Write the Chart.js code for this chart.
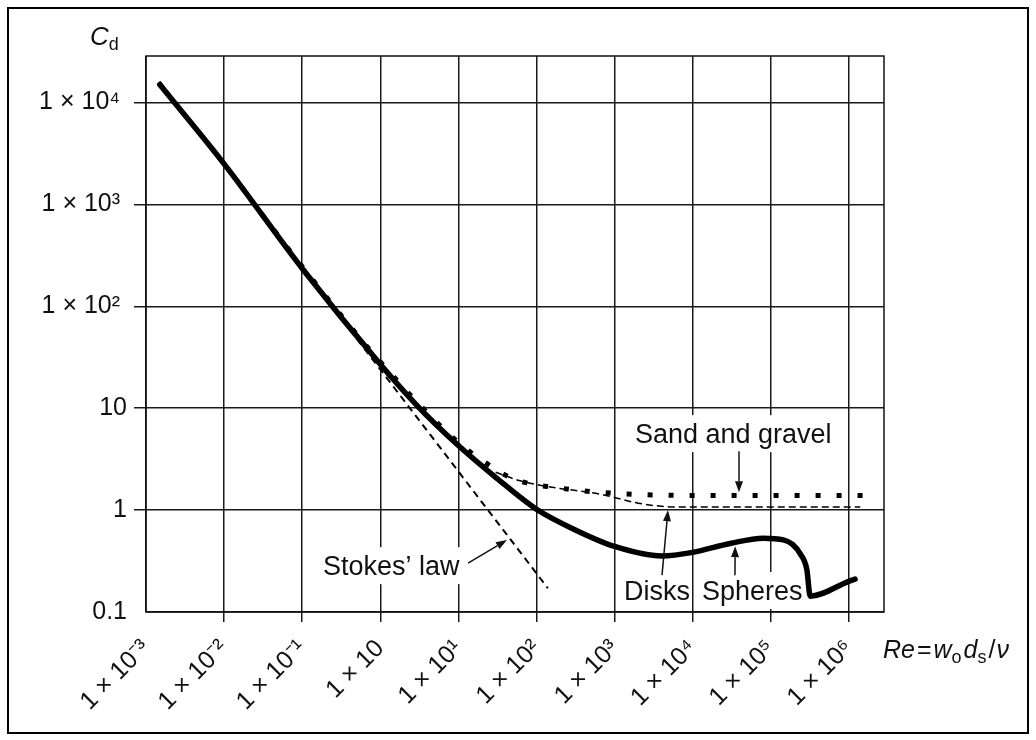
<!DOCTYPE html>
<html>
<head>
<meta charset="utf-8">
<script src="https://cdn.jsdelivr.net/npm/chart.js@4.4.1/dist/chart.umd.min.js"></script>
<style>
  html, body { margin: 0; padding: 0; background: #fff; }
  canvas { display: block; }
</style>
</head>
<body>
<canvas id="cd" width="1036" height="740"></canvas>
<script>
// Drag coefficient Cd vs Reynolds number
const sphereRe = [0.0015, 0.01, 0.1, 1, 3, 10, 30, 100, 300, 1000, 4000, 10000, 30000, 80000, 145000, 190000, 240000, 290000, 320000, 1000000, 1200000];
const sphereCd = [15000, 2500, 235, 27, 10.5, 4.3, 2.1, 1.02, 0.65, 0.44, 0.355, 0.385, 0.47, 0.53, 0.51, 0.46, 0.37, 0.26, 0.143, 0.2, 0.21];

const sandRe = [0.03, 0.1, 1, 10, 28, 48, 87, 160, 330, 610, 1170, 3000, 10000, 100000, 1000000, 1500000];
const sandCd = [810, 245, 28.5, 4.6, 2.6, 2.06, 1.8, 1.68, 1.57, 1.5, 1.45, 1.41, 1.39, 1.39, 1.39, 1.39];

const diskRe = [30, 60, 100, 200, 400, 700, 1000, 2000, 4000, 10000, 100000, 1400000];
const diskCd = [2.35, 1.95, 1.78, 1.63, 1.52, 1.42, 1.33, 1.17, 1.09, 1.07, 1.07, 1.07];

const stokesRe = [0.0015, 140];
const stokesCd = [16000, 0.171];

const xTickValues = [1e-3, 1e-2, 1e-1, 1, 10, 100, 1e3, 1e4, 1e5, 1e6];
const xTickLabels = ["1 × 10⁻³", "1 × 10⁻²", "1 × 10⁻¹", "1 × 10", "1 × 10¹", "1 × 10²", "1 × 10³", "1 × 10⁴", "1 × 10⁵", "1 × 10⁶"];
const yTickValues = [0.1, 1, 10, 100, 1000, 10000];
const yTickLabels = ["0.1", "1", "10", "1 × 10² ", "1 × 10³ ", "1 × 10⁴ "];

const pts = (xs, ys) => xs.map((x, i) => ({ x, y: ys[i] }));

const FONT = '"Liberation Sans", Arial, Helvetica, sans-serif';
const INK = "#111";

// labels on the plot, anchored at (Re, Cd) = left end of the baseline
const noteTexts = [
  { text: "Sand and gravel", re: 1820, cd: 4.54 },
  { text: "Stokes’ law", re: 0.185, cd: 0.23 },
  { text: "Disks", re: 1320, cd: 0.131 },
  { text: "Spheres", re: 13150, cd: 0.131 }
];
// arrows from label to curve, head at "to"
const noteArrows = [
  { from: [13.3, 0.302], to: [41.9, 0.508] },
  { from: [39200, 3.79], to: [39200, 1.5] },
  { from: [4050, 0.23], to: [4830, 1.0] },
  { from: [34800, 0.23], to: [35000, 0.443] }
];

function drawRuns(ctx, x, y, runs) {
  runs.forEach(r => {
    ctx.font = r.font;
    ctx.fillText(r.t, x, y + (r.dy || 0));
    x += ctx.measureText(r.t).width + (r.gap || 0);
  });
}

const decorations = {
  id: "decorations",
  beforeDatasetsDraw(chart) {
    const { ctx, scales: { x, y } } = chart;
    ctx.save();
    ctx.font = `27px ${FONT}`;
    ctx.fillStyle = "#fff";
    noteTexts.forEach(n => {
      const px = x.getPixelForValue(n.re), py = y.getPixelForValue(n.cd);
      const w = ctx.measureText(n.text).width;
      ctx.fillRect(px - 2, py - 28, w + 4, 37);
    });
    ctx.restore();
  },
  afterDatasetsDraw(chart) {
    const { ctx, chartArea: a, scales: { x, y } } = chart;
    ctx.save();

    // plot frame
    ctx.strokeStyle = INK;
    ctx.lineWidth = 1.5;
    ctx.strokeRect(a.left, a.top, a.right - a.left, a.bottom - a.top);

    // annotation labels
    ctx.fillStyle = INK;
    ctx.font = `27px ${FONT}`;
    ctx.textBaseline = "alphabetic";
    ctx.textAlign = "left";
    noteTexts.forEach(n => {
      ctx.fillText(n.text, x.getPixelForValue(n.re), y.getPixelForValue(n.cd));
    });

    // arrows
    ctx.lineWidth = 1.5;
    noteArrows.forEach(ar => {
      const x0 = x.getPixelForValue(ar.from[0]), y0 = y.getPixelForValue(ar.from[1]);
      const x1 = x.getPixelForValue(ar.to[0]), y1 = y.getPixelForValue(ar.to[1]);
      const ang = Math.atan2(y1 - y0, x1 - x0);
      const hl = 11, hw = 4;
      ctx.beginPath();
      ctx.moveTo(x0, y0);
      ctx.lineTo(x1 - hl * Math.cos(ang), y1 - hl * Math.sin(ang));
      ctx.stroke();
      ctx.beginPath();
      ctx.moveTo(x1, y1);
      ctx.lineTo(x1 - hl * Math.cos(ang) + hw * Math.sin(ang), y1 - hl * Math.sin(ang) - hw * Math.cos(ang));
      ctx.lineTo(x1 - hl * Math.cos(ang) - hw * Math.sin(ang), y1 - hl * Math.sin(ang) + hw * Math.cos(ang));
      ctx.closePath();
      ctx.fill();
    });

    // axis titles
    drawRuns(ctx, a.left - 56, a.top - 11, [
      { t: "C", font: `italic 26px ${FONT}` },
      { t: "d", font: `18px ${FONT}`, dy: 5 }
    ]);
    drawRuns(ctx, a.right - 1, a.bottom + 46, [
      { t: "Re", font: `italic 25px ${FONT}`, gap: 2 },
      { t: "=", font: `25px ${FONT}`, gap: 2 },
      { t: "w", font: `italic 25px ${FONT}` },
      { t: "o", font: `18px ${FONT}`, dy: 5, gap: 2 },
      { t: "d", font: `italic 25px ${FONT}` },
      { t: "s", font: `18px ${FONT}`, dy: 5, gap: 2 },
      { t: "/", font: `25px ${FONT}`, gap: 1 },
      { t: "ν", font: `italic 25px ${FONT}` }
    ]);

    // outer border of the figure
    ctx.lineWidth = 2;
    ctx.strokeStyle = "#000";
    ctx.strokeRect(8, 8, 1020, 725);
    ctx.restore();
  }
};

const gridColor = "#1a1a1a";

new Chart(document.getElementById("cd"), {
  type: "scatter",
  data: {
    datasets: [
      {
        label: "Spheres",
        data: pts(sphereRe, sphereCd),
        showLine: true,
        borderColor: "#000",
        borderWidth: 5.5,
        borderCapStyle: "round",
        borderJoinStyle: "round",
        cubicInterpolationMode: "monotone",
        pointRadius: 0
      },
      {
        label: "Sand and gravel",
        data: pts(sandRe, sandCd),
        showLine: true,
        borderColor: "#000",
        borderWidth: 5,
        borderDash: [5, 16],
        borderCapStyle: "butt",
        cubicInterpolationMode: "monotone",
        pointRadius: 0
      },
      {
        label: "Disks",
        data: pts(diskRe, diskCd),
        showLine: true,
        borderColor: "#000",
        borderWidth: 1.5,
        borderDash: [7, 4],
        cubicInterpolationMode: "monotone",
        pointRadius: 0
      },
      {
        label: "Stokes' law",
        data: pts(stokesRe, stokesCd),
        showLine: true,
        borderColor: "#000",
        borderWidth: 2,
        borderDash: [7, 5],
        pointRadius: 0
      }
    ]
  },
  options: {
    responsive: false,
    animation: false,
    layout: { padding: { left: 0, top: 56, right: 152, bottom: 0 } },
    plugins: {
      legend: { display: false },
      tooltip: { enabled: false }
    },
    scales: {
      x: {
        type: "logarithmic",
        min: 1e-3,
        max: Math.pow(10, 6.45),
        afterBuildTicks: axis => { axis.ticks = xTickValues.map(v => ({ value: v })); },
        afterFit: scale => { scale.height = 128; },
        border: { display: false },
        grid: {
          color: gridColor,
          lineWidth: 1.5,
          tickLength: 10,
          tickColor: c => (c.index === 0 ? "rgba(0,0,0,0)" : gridColor)
        },
        ticks: {
          autoSkip: false,
          minRotation: 45,
          maxRotation: 45,
          padding: 12,
          color: INK,
          font: { family: FONT, size: 25 },
          callback: (v, i) => xTickLabels[i]
        }
      },
      y: {
        type: "logarithmic",
        min: 0.1,
        max: Math.pow(10, 4.456),
        afterBuildTicks: axis => { axis.ticks = yTickValues.map(v => ({ value: v })); },
        afterFit: scale => { scale.width = 146; },
        border: { display: false },
        grid: {
          color: gridColor,
          lineWidth: 1.5,
          tickLength: 12,
          tickColor: c => (c.index === 0 ? "rgba(0,0,0,0)" : gridColor)
        },
        ticks: {
          padding: 7,
          color: INK,
          font: { family: FONT, size: 25 },
          callback: (v, i) => yTickLabels[i]
        }
      }
    }
  },
  plugins: [decorations]
});
</script>
</body>
</html>
